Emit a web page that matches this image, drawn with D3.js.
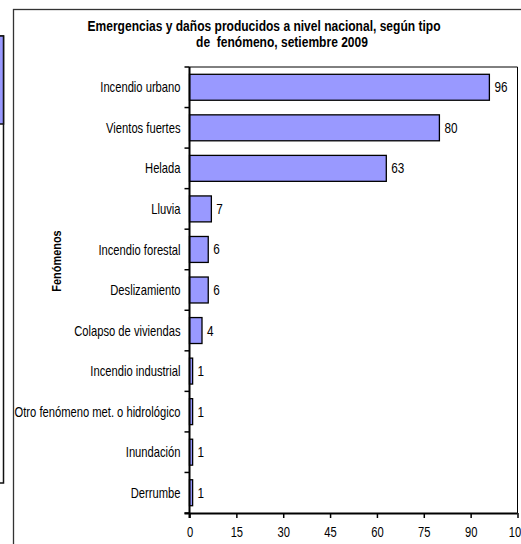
<!DOCTYPE html>
<html><head><meta charset="utf-8">
<script src="https://cdn.jsdelivr.net/npm/d3@7"></script>
<style>
body{margin:0;background:#fff;}
svg text{font-family:"Liberation Sans",Arial,sans-serif;fill:#000;}
</style></head>
<body><svg id="c" width="521" height="544"></svg>
<script>
const categories = ["Incendio urbano","Vientos fuertes","Helada","Lluvia","Incendio forestal","Deslizamiento","Colapso de viviendas","Incendio industrial","Otro fenómeno met. o hidrológico","Inundación","Derrumbe"];
const values = [96,80,63,7,6,6,4,1,1,1,1];
const xTicks = [0,15,30,45,60,75,90,105];
const titleLines = ["Emergencias y daños producidos a nivel nacional, según tipo","de  fenómeno, setiembre 2009"];
const yTitle = "Fenómenos";

const K = 0.80; // horizontal condensing (narrow font look)
const svg = d3.select("#c");
// neighbouring chart fragment on the left
svg.append("rect").attr("x",-10).attr("y",36).attr("width",13.5).attr("height",447).attr("fill","#fff").attr("stroke","#111").attr("stroke-width",1.5);
svg.append("rect").attr("x",-10).attr("y",36).attr("width",13.5).attr("height",88).attr("fill","#9999ff").attr("stroke","#111").attr("stroke-width",1.5);
// outer frame
svg.append("rect").attr("x",13.5).attr("y",9.5).attr("width",600).attr("height",600).attr("fill","none").attr("stroke","#333").attr("stroke-width",1.3);

const L=189.5, R=517.5, T=67, B=513;
const x = d3.scaleLinear().domain([0,105]).range([L,R]);
const y = d3.scaleBand().domain(categories).range([T,B]).paddingInner(0.36).paddingOuter(0.18);

// plot border
svg.append("path").attr("d",`M${L},${T}H${R}V${B}`).attr("fill","none").attr("stroke","#000").attr("stroke-width",1);

// bars
svg.append("g").selectAll("rect").data(values).join("rect")
  .attr("x",x(0)).attr("y",(d,i)=>y(categories[i]))
  .attr("width",d=>x(d)-x(0)).attr("height",y.bandwidth())
  .attr("fill","#9999ff").attr("stroke","#000").attr("stroke-width",1.3);

// value labels
svg.append("g").selectAll("text").data(values).join("text")
  .attr("transform",(d,i)=>`translate(${x(d)+5},${y(categories[i])+y.bandwidth()/2}) scale(0.84,1)`)
  .attr("dy","0.36em").attr("font-size",14).text(d=>d);

// y axis with ticks at band boundaries
const yb = d3.scaleLinear().domain([0,categories.length]).range([T,B]);
const gy = svg.append("g");
gy.append("line").attr("x1",L).attr("x2",L).attr("y1",T).attr("y2",B+5).attr("stroke","#000").attr("stroke-width",2);
gy.selectAll("line.t").data(d3.range(categories.length+1)).join("line").attr("class","t")
  .attr("x1",L-5).attr("x2",L).attr("y1",d=>yb(d)).attr("y2",d=>yb(d)).attr("stroke","#000").attr("stroke-width",1.5);
gy.selectAll("text").data(categories).join("text")
  .attr("transform",d=>`translate(${L-9},${y(d)+y.bandwidth()/2}) scale(${K},1)`).attr("dy","0.36em")
  .attr("text-anchor","end").attr("font-size",14).text(d=>d);

// x axis
const xAxis = d3.axisBottom(x).tickValues(xTicks).tickSize(5).tickPadding(9);
const gx = svg.append("g").attr("transform",`translate(0,${B})`).call(xAxis);
gx.attr("font-family",null).attr("font-size",null);
gx.select(".domain").attr("d",`M${L-5},0.5H${R}`).attr("stroke","#000").attr("stroke-width",2);
gx.selectAll(".tick line").attr("stroke","#000").attr("stroke-width",1.5);
gx.selectAll(".tick text").attr("font-size",14).attr("transform",`scale(${K},1)`);

// titles
svg.append("g").selectAll("text").data(titleLines).join("text")
  .attr("transform",(d,i)=>`translate(${i===0?264:282},${31+i*16}) scale(0.86,1)`)
  .attr("text-anchor","middle").attr("font-weight","bold").attr("font-size",14)
  .attr("xml:space","preserve").style("white-space","pre").text(d=>d);

svg.append("text").attr("transform","translate(61,261) rotate(-90) scale(0.84,1)")
  .attr("text-anchor","middle").attr("font-weight","bold").attr("font-size",13).text(yTitle);
</script></body></html>
